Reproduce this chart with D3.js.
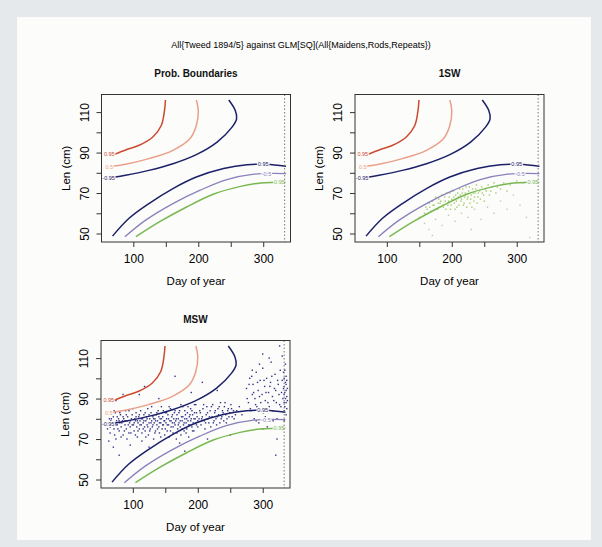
<!DOCTYPE html>
<html>
<head>
<meta charset="utf-8">
<script src="https://cdn.jsdelivr.net/npm/d3@7"></script>
<style>
  body { margin: 0; background: #e6e9ec; }
  text { font-family: "Liberation Sans", Arial, sans-serif; }
</style>
</head>
<body>
<div id="chart"></div>
<script>
const width = 602;
const height = 547;

const mainTitle = 'All{Tweed 1894/5} against GLM[SQ](All{Maidens,Rods,Repeats})';
const panelTitles = ['Prob. Boundaries', '1SW', 'MSW'];
const xTicks = [100, 150, 200, 250, 300];
const xTickLabels = [100, 200, 300];
const yTicks = [50, 60, 70, 80, 90, 100, 110];
const yTickLabels = [50, 70, 90, 110];
const cutoffDay = 333;

// probability boundary curves as [day, len]
const redCurve = [[70, 89], [90, 91.5], [109, 93.6], [130, 97.7], [143, 103.4], [148, 110.8], [149.5, 116]];
const salmonCurve = [[68, 83.2], [88, 84.2], [124, 87], [161, 91.1], [187, 96.8], [197, 103.4], [200, 110.8], [197, 116]];
const navyUpper = [[70, 77.8], [88, 78.8], [124, 81.2], [161, 84.5], [197, 89], [229, 95.2], [252, 102.6], [259, 106.7], [257, 110.8], [247, 116]];
const navyLower = [[68, 48.7], [93, 57.4], [124, 64.8], [161, 72.2], [197, 77.9], [239, 82.1], [275, 84], [305, 84.2], [335, 83.2]];
const purpleCurve = [[87, 48.4], [119, 56.6], [161, 64.8], [203, 71.4], [244, 76.6], [286, 79.3], [335, 79.6]];
const greenCurve = [[104, 48.4], [140, 55.7], [182, 63.1], [223, 69.4], [265, 73.3], [296, 75], [335, 75.5]];

const curveColors = ['#cc4a30', '#eaa088', '#1c2068', '#1c2068', '#8a80bc', '#78b850'];
const curveLabels = [
  {text: '0.95', day: 63, len: 89.3},
  {text: '0.5', day: 63, len: 83},
  {text: '-0.95', day: 62, len: 77.5},
  {text: '0.95', day: 300, len: 84.3},
  {text: '-0.5', day: 305, len: 79.6},
  {text: '0.95', day: 325, len: 75.5}
];

// 1SW fish: green near the boundary, grey the rest
const oneSeaGreen = [[160, 63], [165, 65], [168, 61], [170, 66], [173, 64], [175, 68], [178, 62], [180, 67], [182, 65], [185, 69],
  [187, 63], [190, 66], [192, 70], [194, 64], [196, 68], [198, 62], [200, 67], [202, 71], [204, 65], [206, 69],
  [208, 63], [210, 68], [212, 72], [214, 66], [216, 70], [218, 64], [220, 68], [222, 73], [224, 67], [226, 71],
  [228, 65], [230, 69], [232, 72], [234, 66], [236, 70], [238, 74], [240, 68], [243, 71], [246, 73], [249, 69],
  [252, 72], [256, 74], [260, 71], [265, 75], [270, 73], [280, 75], [290, 74],
  [158, 60], [162, 62], [166, 63], [171, 64], [176, 62], [179, 65], [183, 66], [186, 64], [189, 68], [191, 62],
  [195, 66], [197, 70], [199, 64], [203, 68], [205, 62], [207, 66], [209, 70], [211, 64], [213, 69], [215, 67],
  [217, 72], [219, 65], [221, 70], [223, 63], [225, 68], [227, 73], [229, 67], [231, 63], [233, 70], [235, 68],
  [237, 72], [239, 65], [241, 70], [244, 67], [247, 70], [250, 66], [253, 71], [258, 69], [262, 73], [268, 70],
  [275, 72], [285, 71], [300, 76], [310, 75]];
const oneSeaGrey = [[150, 58], [158, 55], [165, 52], [175, 57], [185, 54], [195, 59], [205, 56], [215, 60], [225, 58],
  [235, 62], [245, 57], [255, 63], [265, 60], [275, 66], [285, 62], [295, 69], [305, 64], [315, 58], [320, 48], [170, 49], [230, 52]];

// MSW fish
const multiSea = [[62, 78], [64, 80], [65, 76], [66, 79], [68, 77], [70, 81], [71, 75], [72, 78], [73, 83], [74, 70],
  [75, 79], [76, 77], [78, 80], [79, 74], [80, 78], [81, 82], [82, 76], [84, 79], [85, 72], [86, 80],
  [88, 77], [89, 84], [90, 75], [91, 79], [92, 81], [94, 73], [95, 78], [96, 76], [98, 80], [99, 82],
  [63, 69], [70, 66], [79, 62], [74, 89], [85, 92], [96, 67],
  [101, 77], [102, 74], [103, 80], [104, 79], [105, 83], [106, 76], [107, 71], [108, 78], [109, 81], [110, 75],
  [111, 79], [112, 84], [113, 77], [114, 73], [115, 80], [116, 78], [117, 82], [118, 76], [119, 74], [120, 79],
  [121, 81], [122, 77], [123, 85], [124, 72], [125, 78], [126, 80], [127, 75], [128, 83], [129, 79], [130, 76],
  [131, 81], [132, 70], [133, 78], [134, 80], [135, 74], [136, 82], [137, 77], [138, 79], [139, 84], [140, 76],
  [141, 73], [142, 80], [143, 78], [144, 86], [145, 75], [146, 81], [147, 77], [148, 79], [149, 72], [150, 83],
  [110, 92], [125, 66], [140, 90], [118, 96],
  [151, 78], [152, 80], [153, 74], [154, 82], [155, 77], [156, 71], [157, 79], [158, 85], [159, 76], [160, 81],
  [161, 78], [162, 73], [163, 80], [164, 83], [165, 77], [166, 79], [167, 70], [168, 82], [169, 75], [170, 80],
  [171, 78], [172, 84], [173, 76], [174, 72], [175, 81], [176, 79], [177, 86], [178, 77], [179, 74], [180, 80],
  [181, 82], [182, 78], [183, 75], [184, 83], [185, 79], [186, 71], [187, 81], [188, 77], [189, 85], [190, 80],
  [191, 76], [192, 82], [193, 78], [194, 74], [195, 83], [196, 80], [197, 87], [198, 77], [199, 81], [200, 79],
  [165, 101], [180, 64], [190, 93], [172, 68],
  [202, 80], [204, 83], [205, 77], [207, 81], [208, 85], [210, 79], [211, 75], [213, 82], [214, 86], [216, 80],
  [217, 78], [219, 84], [220, 76], [222, 81], [223, 87], [225, 79], [226, 83], [228, 80], [229, 77], [231, 85],
  [232, 82], [234, 78], [235, 88], [237, 81], [238, 84], [240, 79], [241, 86], [243, 82], [245, 80], [247, 85],
  [249, 83], [251, 87], [253, 81], [255, 84], [258, 82],
  [207, 98], [230, 94], [215, 70], [250, 72],
  [275, 95], [278, 88], [280, 100], [282, 84], [284, 92], [285, 97], [287, 80], [288, 90], [290, 103], [291, 86],
  [293, 94], [294, 78], [296, 99], [297, 88], [299, 92], [300, 105], [301, 83], [303, 96], [304, 89], [306, 100],
  [307, 76], [309, 93], [310, 86], [312, 98], [313, 108], [315, 91], [316, 84], [318, 95], [319, 102], [321, 88],
  [322, 80], [324, 97], [325, 92], [327, 104], [328, 86], [330, 99], [331, 90], [332, 95], [333, 84], [333, 88],
  [333, 92], [333, 96], [333, 100], [333, 79], [334, 93], [334, 86], [335, 98], [335, 90], [326, 116], [322, 70],
  [310, 110], [320, 62], [300, 75],
  [61, 75], [63, 82], [65, 73], [67, 80], [69, 78], [71, 84], [72, 72], [74, 77], [76, 81], [77, 75],
  [79, 79], [80, 83], [82, 71], [83, 78], [85, 81], [87, 74], [88, 79], [90, 82], [91, 70], [93, 77],
  [94, 84], [96, 79], [97, 73], [99, 77], [100, 85],
  [102, 78], [104, 72], [105, 81], [107, 79], [108, 74], [110, 82], [111, 77], [113, 80], [114, 69], [116, 75],
  [117, 79], [119, 83], [120, 71], [122, 80], [123, 76], [125, 82], [126, 74], [128, 78], [129, 86], [131, 77],
  [132, 80], [134, 73], [135, 79], [137, 83], [138, 75], [140, 81], [141, 78], [143, 71], [144, 80], [146, 77],
  [147, 84], [149, 79], [150, 75],
  [152, 83], [153, 77], [155, 80], [156, 86], [158, 74], [159, 79], [161, 82], [162, 76], [164, 78], [165, 84],
  [167, 80], [168, 73], [170, 77], [171, 83], [173, 79], [174, 87], [176, 75], [177, 81], [179, 78], [180, 84],
  [182, 73], [183, 80], [185, 86], [186, 77], [188, 82], [189, 79], [191, 84], [192, 74], [194, 80], [195, 87],
  [197, 78], [198, 83], [200, 76],
  [203, 84], [206, 80], [209, 87], [212, 78], [215, 83], [218, 81], [221, 86], [224, 78], [227, 84], [230, 81],
  [233, 86], [236, 80], [239, 83], [242, 88], [244, 78], [246, 84], [248, 81], [252, 85], [256, 80], [260, 84],
  [264, 86], [268, 82],
  [276, 90], [279, 97], [281, 85], [283, 101], [286, 93], [289, 87], [292, 98], [295, 91], [298, 84], [302, 99],
  [305, 93], [308, 88], [311, 96], [314, 101], [317, 89], [320, 94], [323, 99], [326, 87], [329, 93], [332, 103],
  [336, 82], [336, 88], [336, 94], [336, 97], [336, 101], [337, 85], [337, 91], [337, 99], [334, 104], [335, 107],
  [338, 95], [338, 89], [316, 79], [304, 81], [290, 79], [295, 107], [284, 104], [300, 112], [330, 111]];

const panels = [
  {left: 101.5, top: 94.5, title: panelTitles[0], points: []},
  {left: 355, top: 94.5, title: panelTitles[1], points: [{data: oneSeaGrey, color: '#c4c6bc'}, {data: oneSeaGreen, color: '#a2cc6c'}]},
  {left: 101, top: 340.5, title: panelTitles[2], points: [{data: multiSea, color: '#34328a'}]}
];
const panelW = 189;
const panelH = 147.5;

const svg = d3.select('#chart')
  .append('svg')
  .attr('width', width)
  .attr('height', height);

svg.append('rect')
  .attr('x', 0).attr('y', 0)
  .attr('width', width).attr('height', height)
  .attr('fill', '#e6e9ec');

svg.append('rect')
  .attr('x', 17).attr('y', 17)
  .attr('width', 574).attr('height', 523)
  .attr('fill', '#fcfcfb');

svg.append('text')
  .attr('x', 301).attr('y', 47.5)
  .attr('text-anchor', 'middle')
  .style('font-size', '9px')
  .attr('fill', '#000')
  .text(mainTitle);

const lineFunction = d3.line().curve(d3.curveCatmullRom.alpha(0.5));

function makePanel(p) {
  const x = d3.scaleLinear().domain([51, 342]).range([p.left, p.left + panelW]);
  const y = d3.scaleLinear().domain([45.8, 118.7]).range([p.top + panelH, p.top]);
  const g = svg.append('g');

  g.append('text')
    .attr('x', p.left + panelW / 2).attr('y', p.top - 18)
    .attr('text-anchor', 'middle')
    .style('font-size', '10px').style('font-weight', 'bold')
    .attr('fill', '#111')
    .text(p.title);

  // points first, curves on top
  p.points.forEach(function(set) {
    g.selectAll(null)
      .data(set.data)
      .enter()
      .append('rect')
      .attr('x', function(d) { return x(d[0]) - 0.7; })
      .attr('y', function(d) { return y(d[1]) - 0.7; })
      .attr('width', 1.4).attr('height', 1.4)
      .attr('fill', set.color);
  });

  const curves = [redCurve, salmonCurve, navyUpper, navyLower, purpleCurve, greenCurve];
  lineFunction.x(function(d) { return x(d[0]); }).y(function(d) { return y(d[1]); });
  curves.forEach(function(c, i) {
    g.append('path')
      .attr('d', lineFunction(c))
      .attr('fill', 'none')
      .attr('stroke', curveColors[i])
      .attr('stroke-width', i == 4 ? 1.3 : 1.5);
  });

  curveLabels.forEach(function(l, i) {
    g.append('text')
      .attr('x', x(l.day)).attr('y', y(l.len) + 2)
      .attr('text-anchor', 'middle')
      .style('font-size', '5.5px')
      .attr('fill', curveColors[i])
      .attr('stroke', '#fcfcfb').attr('stroke-width', 2).style('paint-order', 'stroke')
      .text(l.text);
  });

  g.append('line')
    .attr('x1', x(cutoffDay)).attr('x2', x(cutoffDay))
    .attr('y1', p.top).attr('y2', p.top + panelH)
    .attr('stroke', '#777').attr('stroke-width', 1)
    .attr('stroke-dasharray', '1.5,2');

  g.append('rect')
    .attr('x', p.left).attr('y', p.top)
    .attr('width', panelW).attr('height', panelH)
    .attr('fill', 'none').attr('stroke', '#333').attr('stroke-width', 1);

  const xAxis = g.append('g')
    .attr('transform', 'translate(0,' + (p.top + panelH) + ')')
    .call(d3.axisBottom(x).tickValues(xTicks).tickSize(5).tickPadding(7)
      .tickFormat(function(d) { return xTickLabels.indexOf(d) >= 0 ? d : ''; }));
  xAxis.select('.domain').remove();
  xAxis.selectAll('text').style('font-size', '12px').style('font-family', '"Liberation Sans", Arial, sans-serif').attr('fill', '#000');
  xAxis.selectAll('line').attr('stroke', '#333');

  const yAxis = g.append('g')
    .attr('transform', 'translate(' + p.left + ',0)')
    .call(d3.axisLeft(y).tickValues(yTicks).tickSize(5)
      .tickFormat(function(d) { return yTickLabels.indexOf(d) >= 0 ? d : ''; }));
  yAxis.select('.domain').remove();
  yAxis.selectAll('line').attr('stroke', '#333');
  yAxis.selectAll('text')
    .attr('x', 0).attr('dy', null)
    .attr('text-anchor', 'middle')
    .attr('transform', 'translate(-13,0) rotate(-90)')
    .style('font-size', '12px').style('font-family', '"Liberation Sans", Arial, sans-serif')
    .attr('fill', '#000');

  g.append('text')
    .attr('x', p.left + panelW / 2).attr('y', p.top + panelH + 43)
    .attr('text-anchor', 'middle')
    .style('font-size', '11.5px')
    .attr('fill', '#000')
    .text('Day of year');

  g.append('text')
    .attr('transform', 'translate(' + (p.left - 32) + ',' + (p.top + panelH / 2) + ') rotate(-90)')
    .attr('text-anchor', 'middle')
    .style('font-size', '11.5px')
    .attr('fill', '#000')
    .text('Len (cm)');
}

panels.forEach(makePanel);
</script>
</body>
</html>
